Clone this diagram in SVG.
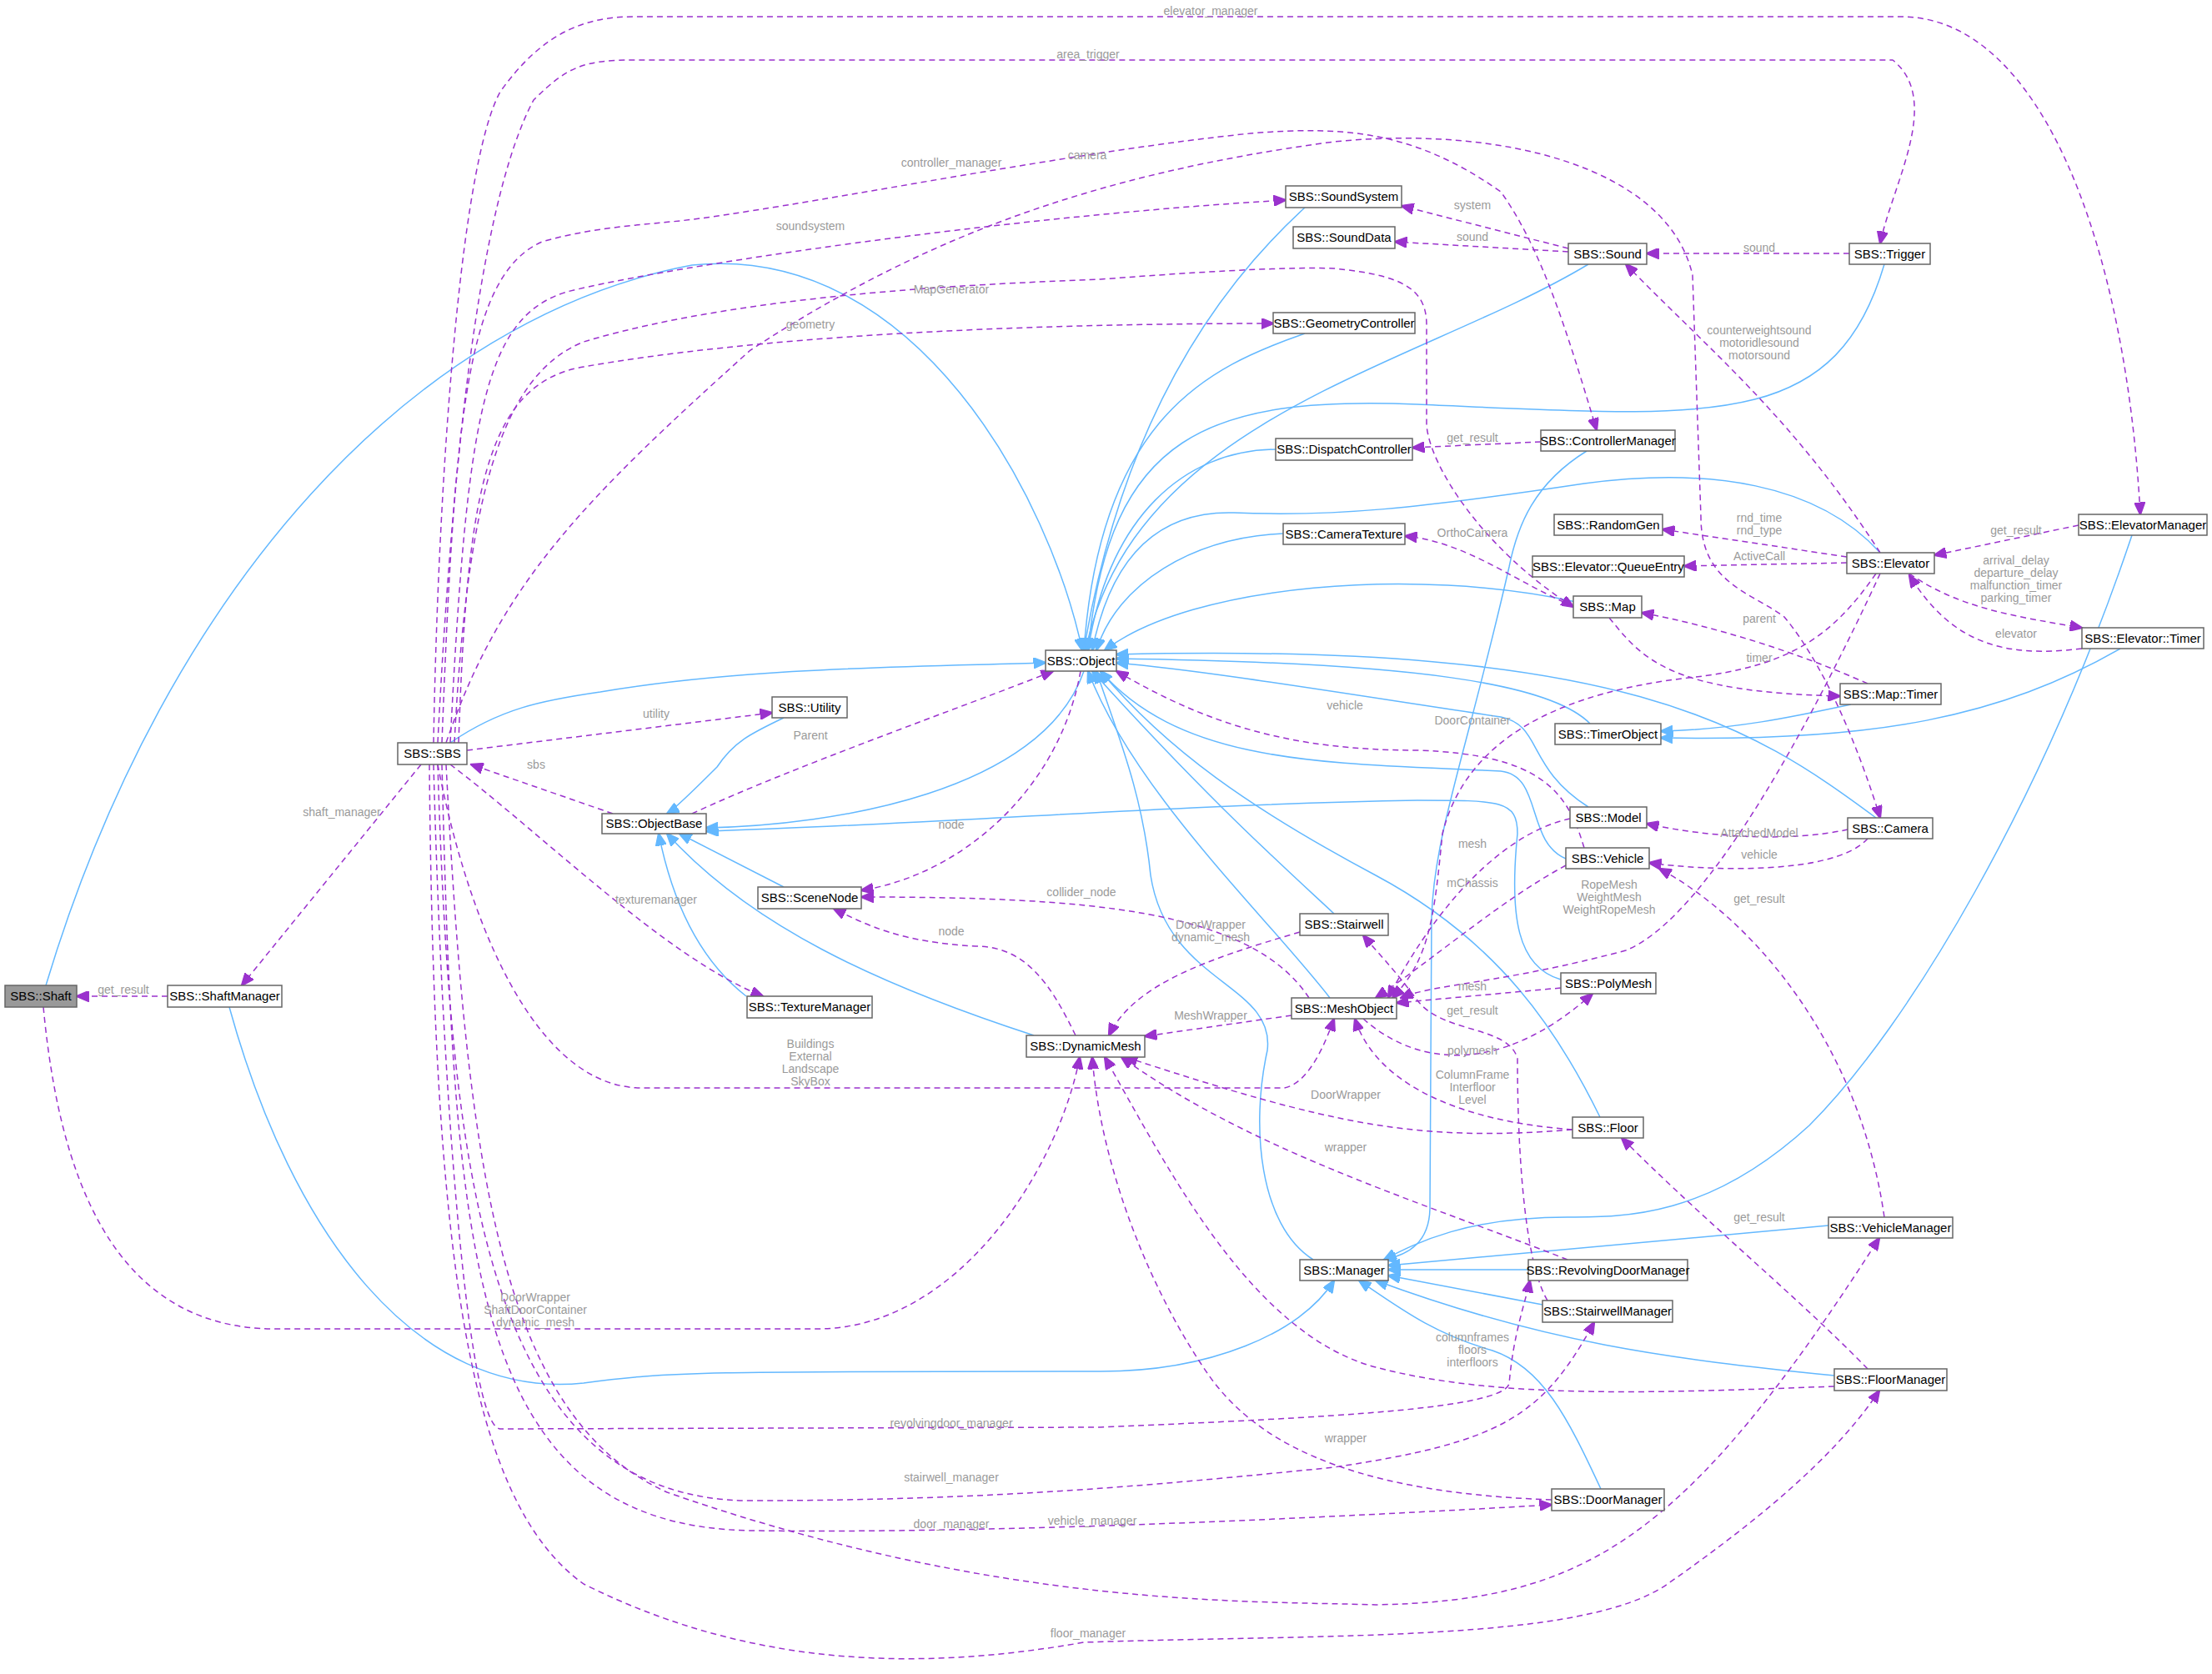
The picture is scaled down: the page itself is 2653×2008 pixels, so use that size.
<svg xmlns="http://www.w3.org/2000/svg" width="2653" height="2008" viewBox="0 0 2653 2008">
<style>
.n rect{fill:#fff;stroke:#666;stroke-width:1.5}
.n text{font-family:"Liberation Sans",Arial,sans-serif;font-size:15px;fill:#000;text-anchor:middle}
.i{fill:none;stroke:#63b8ff;stroke-width:1.5}
.u{fill:none;stroke:#9a32cd;stroke-width:1.5;stroke-dasharray:7,5}
.l{font-family:"Liberation Sans",Arial,sans-serif;font-size:14px;fill:#9a9a9a;text-anchor:middle}
</style>
<defs>
<marker id="ab" viewBox="0 0 12 10" refX="11" refY="5" markerWidth="16" markerHeight="13" markerUnits="userSpaceOnUse" orient="auto"><path d="M0,0L12,5L0,10z" fill="#63b8ff" stroke="#63b8ff"/></marker>
<marker id="ap" viewBox="0 0 12 10" refX="11" refY="5" markerWidth="16" markerHeight="13" markerUnits="userSpaceOnUse" orient="auto"><path d="M0,0L12,5L0,10z" fill="#9a32cd" stroke="#9a32cd"/></marker>
</defs>
<rect width="2653" height="2008" fill="#fff"/>
<g id="edges">
<g marker-end="url(#ab)">
<path class="i" d="M1565 249 C1400 400 1330 600 1300 780"/>
<path class="i" d="M1905 317 C1700 440 1360 500 1302 780"/>
<path class="i" d="M2260 317 C2200 520 2050 500 1700 485 C1450 475 1330 520 1305 780"/>
<path class="i" d="M1565 400 C1450 440 1320 500 1300 780"/>
<path class="i" d="M1530 539 C1420 540 1330 620 1305 780"/>
<path class="i" d="M1539 640 C1430 645 1340 700 1315 780"/>
<path class="i" d="M1890 722 C1700 680 1430 700 1325 780"/>
<path class="i" d="M2255 663 C2180 580 2050 560 1900 580 C1700 610 1600 620 1480 615 C1380 612 1330 680 1310 780"/>
<path class="i" d="M1907 868 C1860 820 1700 795 1339 790"/>
<path class="i" d="M2250 981 C2100 870 1950 770 1339 785"/>
<path class="i" d="M1905 968 C1830 920 1850 870 1800 860 C1600 830 1450 805 1339 795"/>
<path class="i" d="M1878 1030 C1830 1010 1850 930 1800 925 C1600 915 1420 920 1320 805"/>
<path class="i" d="M1600 1096 C1540 1040 1450 960 1310 805"/>
<path class="i" d="M1595 1197 C1520 1100 1360 950 1305 805"/>
<path class="i" d="M1919 1340 C1870 1240 1800 1130 1650 1050 C1500 970 1400 900 1320 805"/>
<path class="i" d="M1575 1511 C1510 1470 1500 1350 1520 1260 C1530 1180 1400 1180 1380 1050 C1370 950 1340 880 1315 805"/>
<path class="i" d="M540 891 C600 850 650 840 720 830 C900 800 1100 800 1254 795"/>
<path class="i" d="M55 1182 C200 700 500 380 830 318 C1100 290 1260 600 1298 780"/>
<path class="i" d="M940 861 C900 880 880 890 860 920 C840 940 810 970 800 976"/>
<path class="i" d="M1300 805 C1250 950 1000 990 847 993"/>
<path class="i" d="M940 1064 L815 1000"/>
<path class="i" d="M895 1195 C850 1160 810 1100 790 1000"/>
<path class="i" d="M1240 1242 C1050 1180 900 1110 800 1000"/>
<path class="i" d="M1872 1175 C1820 1160 1810 1100 1820 1000 C1820 960 1800 960 1700 960 C1400 965 1100 990 847 997"/>
<path class="i" d="M1903 541 C1840 580 1820 630 1810 680 C1760 900 1720 1000 1717 1100 L1715 1450 C1714 1490 1690 1505 1660 1511"/>
<path class="i" d="M2557 642 C2450 960 2290 1230 2170 1350 C2050 1460 1950 1460 1880 1460 C1760 1460 1700 1490 1660 1511"/>
<path class="i" d="M2193 1470 L1665 1518"/>
<path class="i" d="M1833 1523 L1665 1523"/>
<path class="i" d="M1850 1565 L1665 1530"/>
<path class="i" d="M2200 1650 C2000 1630 1850 1610 1650 1536"/>
<path class="i" d="M1920 1786 C1880 1700 1850 1640 1790 1620 C1720 1600 1680 1570 1630 1536"/>
<path class="i" d="M275 1208 C350 1480 500 1680 700 1659 C800 1645 850 1645 1320 1645 C1450 1645 1560 1600 1600 1536"/>
<path class="i" d="M2220 845 C2150 860 2080 875 1992 877"/>
<path class="i" d="M2543 778 C2400 860 2250 890 1992 885"/>
</g>
<g marker-end="url(#ap)">
<path class="u" d="M520 891 C525 600 550 200 600 110 C650 40 700 20 760 20 L2280 20 C2450 20 2550 300 2567 617"/>
<path class="u" d="M525 891 C540 600 570 250 640 120 C680 80 700 72 760 72 L2270 72 C2330 120 2270 220 2255 292"/>
<path class="u" d="M530 891 C545 500 560 330 650 290 C720 270 780 270 840 262 C1000 240 1300 180 1500 160 C1620 150 1700 160 1800 230 C1850 300 1880 400 1915 516"/>
<path class="u" d="M535 891 C600 700 700 600 900 420 C1100 290 1300 210 1600 170 C1800 150 2000 200 2030 330 L2040 620 C2040 700 2100 710 2140 740 C2190 800 2230 900 2255 981"/>
<path class="u" d="M540 891 C560 500 580 380 680 350 C800 320 1200 260 1542 240"/>
<path class="u" d="M545 891 C560 600 600 450 700 410 C900 350 1200 340 1320 335 C1450 325 1550 320 1600 322 C1680 330 1711 345 1711 390 L1711 510 C1715 560 1780 660 1887 728"/>
<path class="u" d="M550 891 C560 600 580 460 700 440 C900 405 1200 388 1527 388"/>
<path class="u" d="M560 900 L926 855"/>
<path class="u" d="M505 917 L290 1182"/>
<path class="u" d="M540 917 C650 1000 800 1150 915 1195"/>
<path class="u" d="M525 917 C560 1100 640 1305 770 1305 L1540 1305 C1570 1300 1590 1250 1600 1222"/>
<path class="u" d="M520 917 C530 1300 560 1712 600 1714 L1320 1712 C1600 1700 1800 1690 1810 1660 C1815 1600 1830 1560 1835 1536"/>
<path class="u" d="M525 917 C540 1400 580 1800 900 1800 C1200 1800 1400 1780 1600 1760 C1800 1730 1850 1700 1912 1586"/>
<path class="u" d="M530 917 C545 1500 560 1830 900 1836 C1200 1840 1600 1820 1861 1805"/>
<path class="u" d="M535 917 C560 1400 600 1700 800 1790 C1200 1930 1500 1920 1650 1925 C1900 1920 2020 1850 2254 1485"/>
<path class="u" d="M515 917 C520 1500 560 1800 700 1900 C900 2000 1100 2005 1300 1970 C1600 1960 1900 1970 2000 1900 C2100 1830 2200 1750 2254 1668"/>
<path class="u" d="M201 1195 L92 1195"/>
<path class="u" d="M52 1208 C70 1400 130 1594 330 1594 L980 1594 C1150 1594 1270 1400 1295 1268"/>
<path class="u" d="M735 976 L565 917"/>
<path class="u" d="M830 976 C950 920 1150 850 1263 805"/>
<path class="u" d="M1296 805 C1270 950 1150 1050 1033 1068"/>
<path class="u" d="M1290 1242 C1260 1180 1230 1135 1170 1135 C1080 1130 1040 1110 1000 1090"/>
<path class="u" d="M1570 1197 C1500 1090 1300 1076 1033 1076"/>
<path class="u" d="M1549 1218 L1373 1243"/>
<path class="u" d="M1559 1118 C1450 1150 1360 1180 1330 1242"/>
<path class="u" d="M1886 1355 C1700 1370 1600 1350 1350 1268"/>
<path class="u" d="M1880 1511 C1700 1440 1500 1380 1345 1268"/>
<path class="u" d="M1861 1799 C1600 1790 1500 1720 1450 1650 C1380 1550 1320 1400 1310 1268"/>
<path class="u" d="M2200 1663 C2000 1670 1800 1680 1650 1640 C1500 1600 1400 1400 1325 1268"/>
<path class="u" d="M1886 1355 C1750 1345 1650 1300 1625 1222"/>
<path class="u" d="M1635 1222 C1700 1280 1800 1290 1910 1192"/>
<path class="u" d="M1872 1185 L1675 1203"/>
<path class="u" d="M1883 982 C1800 1000 1720 1090 1665 1197"/>
<path class="u" d="M1878 1038 C1800 1080 1720 1150 1650 1197"/>
<path class="u" d="M2255 688 C2180 850 2050 1100 1950 1140 C1800 1180 1720 1180 1680 1197"/>
<path class="u" d="M2250 688 C2200 760 2150 800 2025 813 C1880 830 1760 880 1730 1000 C1720 1100 1715 1150 1670 1197"/>
<path class="u" d="M1900 1017 C1880 950 1850 905 1700 900 C1550 900 1450 870 1339 805"/>
<path class="u" d="M1881 298 L1681 247"/>
<path class="u" d="M1881 302 L1673 290"/>
<path class="u" d="M2218 304 L1975 304"/>
<path class="u" d="M2255 663 C2150 500 2050 420 1950 317"/>
<path class="u" d="M1848 530 L1694 537"/>
<path class="u" d="M2215 668 L1994 635"/>
<path class="u" d="M2215 675 L2020 679"/>
<path class="u" d="M2493 630 L2320 666"/>
<path class="u" d="M2290 688 C2350 730 2420 740 2497 753"/>
<path class="u" d="M2497 778 C2400 790 2340 770 2290 690"/>
<path class="u" d="M1887 727 C1820 700 1760 650 1685 643"/>
<path class="u" d="M2240 820 C2150 780 2050 750 1969 735"/>
<path class="u" d="M1930 741 C1970 790 2000 830 2207 835"/>
<path class="u" d="M2216 995 C2150 1010 2050 1005 1975 988"/>
<path class="u" d="M2240 1006 C2200 1050 2050 1045 1978 1035"/>
<path class="u" d="M2260 1460 C2230 1250 2100 1100 1990 1042"/>
<path class="u" d="M2240 1642 C2150 1550 2050 1470 1945 1365"/>
<path class="u" d="M1856 1560 C1820 1500 1820 1300 1820 1270 C1810 1230 1730 1240 1700 1200 C1670 1160 1650 1140 1635 1122"/>
</g>
<g class="lbls">
<text class="l" x="1452" y="18">elevator_manager</text>
<text class="l" x="1305" y="70">area_trigger</text>
<text class="l" x="1141" y="200">controller_manager</text>
<text class="l" x="1304" y="191">camera</text>
<text class="l" x="972" y="276">soundsystem</text>
<text class="l" x="1141" y="352">MapGenerator</text>
<text class="l" x="972" y="394">geometry</text>
<text class="l" x="787" y="861">utility</text>
<text class="l" x="972" y="887">Parent</text>
<text class="l" x="643" y="922">sbs</text>
<text class="l" x="410" y="979">shaft_manager</text>
<text class="l" x="1141" y="994">node</text>
<text class="l" x="787" y="1084">texturemanager</text>
<text class="l" x="1141" y="1122">node</text>
<text class="l" x="1297" y="1075">collider_node</text>
<text class="l" x="148" y="1192">get_result</text>
<text class="l" x="972" y="1257">Buildings</text>
<text class="l" x="972" y="1272">External</text>
<text class="l" x="972" y="1287">Landscape</text>
<text class="l" x="972" y="1302">SkyBox</text>
<text class="l" x="642" y="1561">DoorWrapper</text>
<text class="l" x="642" y="1576">ShaftDoorContainer</text>
<text class="l" x="642" y="1591">dynamic_mesh</text>
<text class="l" x="1141" y="1712">revolvingdoor_manager</text>
<text class="l" x="1141" y="1777">stairwell_manager</text>
<text class="l" x="1141" y="1833">door_manager</text>
<text class="l" x="1310" y="1829">vehicle_manager</text>
<text class="l" x="1305" y="1964">floor_manager</text>
<text class="l" x="1766" y="251">system</text>
<text class="l" x="1766" y="289">sound</text>
<text class="l" x="2110" y="302">sound</text>
<text class="l" x="2110" y="401">counterweightsound</text>
<text class="l" x="2110" y="416">motoridlesound</text>
<text class="l" x="2110" y="431">motorsound</text>
<text class="l" x="1766" y="530">get_result</text>
<text class="l" x="2110" y="626">rnd_time</text>
<text class="l" x="2110" y="641">rnd_type</text>
<text class="l" x="2110" y="672">ActiveCall</text>
<text class="l" x="2418" y="641">get_result</text>
<text class="l" x="2418" y="677">arrival_delay</text>
<text class="l" x="2418" y="692">departure_delay</text>
<text class="l" x="2418" y="707">malfunction_timer</text>
<text class="l" x="2418" y="722">parking_timer</text>
<text class="l" x="2418" y="765">elevator</text>
<text class="l" x="1766" y="644">OrthoCamera</text>
<text class="l" x="2110" y="747">parent</text>
<text class="l" x="2110" y="794">timer</text>
<text class="l" x="1613" y="851">vehicle</text>
<text class="l" x="1766" y="869">DoorContainer</text>
<text class="l" x="2110" y="1004">AttachedModel</text>
<text class="l" x="2110" y="1030">vehicle</text>
<text class="l" x="1766" y="1017">mesh</text>
<text class="l" x="1766" y="1064">mChassis</text>
<text class="l" x="1930" y="1066">RopeMesh</text>
<text class="l" x="1930" y="1081">WeightMesh</text>
<text class="l" x="1930" y="1096">WeightRopeMesh</text>
<text class="l" x="2110" y="1083">get_result</text>
<text class="l" x="1452" y="1114">DoorWrapper</text>
<text class="l" x="1452" y="1129">dynamic_mesh</text>
<text class="l" x="1766" y="1188">mesh</text>
<text class="l" x="1766" y="1217">get_result</text>
<text class="l" x="1452" y="1223">MeshWrapper</text>
<text class="l" x="1766" y="1265">polymesh</text>
<text class="l" x="1766" y="1294">ColumnFrame</text>
<text class="l" x="1766" y="1309">Interfloor</text>
<text class="l" x="1766" y="1324">Level</text>
<text class="l" x="1614" y="1318">DoorWrapper</text>
<text class="l" x="1614" y="1381">wrapper</text>
<text class="l" x="2110" y="1465">get_result</text>
<text class="l" x="1766" y="1609">columnframes</text>
<text class="l" x="1766" y="1624">floors</text>
<text class="l" x="1766" y="1639">interfloors</text>
<text class="l" x="1614" y="1730">wrapper</text>
</g>
</g>
<g id="Shaft" class="n"><rect x="6" y="1182" width="86" height="26" style="fill:#999"/><text x="49" y="1200">SBS::Shaft</text></g>
<g id="ShaftManager" class="n"><rect x="201" y="1182" width="137" height="26"/><text x="269.5" y="1200">SBS::ShaftManager</text></g>
<g id="SBS" class="n"><rect x="477" y="891" width="83" height="26"/><text x="518.5" y="909">SBS::SBS</text></g>
<g id="Utility" class="n"><rect x="926" y="836" width="90" height="25"/><text x="971" y="854">SBS::Utility</text></g>
<g id="ObjectBase" class="n"><rect x="722" y="976" width="125" height="24"/><text x="784.5" y="993">SBS::ObjectBase</text></g>
<g id="Object" class="n"><rect x="1254" y="780" width="85" height="25"/><text x="1296.5" y="798">SBS::Object</text></g>
<g id="SceneNode" class="n"><rect x="909" y="1064" width="124" height="26"/><text x="971" y="1082">SBS::SceneNode</text></g>
<g id="TextureManager" class="n"><rect x="896" y="1195" width="150" height="26"/><text x="971" y="1213">SBS::TextureManager</text></g>
<g id="DynamicMesh" class="n"><rect x="1231" y="1242" width="142" height="26"/><text x="1302" y="1260">SBS::DynamicMesh</text></g>
<g id="SoundSystem" class="n"><rect x="1542" y="223" width="139" height="26"/><text x="1611.5" y="241">SBS::SoundSystem</text></g>
<g id="SoundData" class="n"><rect x="1551" y="272" width="122" height="26"/><text x="1612" y="290">SBS::SoundData</text></g>
<g id="Sound" class="n"><rect x="1881" y="292" width="94" height="25"/><text x="1928" y="310">SBS::Sound</text></g>
<g id="Trigger" class="n"><rect x="2218" y="292" width="97" height="25"/><text x="2266.5" y="310">SBS::Trigger</text></g>
<g id="GeometryController" class="n"><rect x="1527" y="375" width="170" height="25"/><text x="1612" y="393">SBS::GeometryController</text></g>
<g id="DispatchController" class="n"><rect x="1530" y="526" width="164" height="26"/><text x="1612" y="544">SBS::DispatchController</text></g>
<g id="ControllerManager" class="n"><rect x="1848" y="516" width="161" height="25"/><text x="1928.5" y="534">SBS::ControllerManager</text></g>
<g id="RandomGen" class="n"><rect x="1864" y="617" width="130" height="25"/><text x="1929" y="635">SBS::RandomGen</text></g>
<g id="QueueEntry" class="n"><rect x="1838" y="667" width="182" height="25"/><text x="1929" y="685">SBS::Elevator::QueueEntry</text></g>
<g id="Elevator" class="n"><rect x="2215" y="663" width="105" height="25"/><text x="2267.5" y="681">SBS::Elevator</text></g>
<g id="ElevatorManager" class="n"><rect x="2493" y="617" width="154" height="25"/><text x="2570" y="635">SBS::ElevatorManager</text></g>
<g id="CameraTexture" class="n"><rect x="1539" y="628" width="146" height="25"/><text x="1612" y="646">SBS::CameraTexture</text></g>
<g id="Map" class="n"><rect x="1887" y="715" width="82" height="26"/><text x="1928" y="733">SBS::Map</text></g>
<g id="ElevatorTimer" class="n"><rect x="2497" y="753" width="146" height="25"/><text x="2570" y="771">SBS::Elevator::Timer</text></g>
<g id="MapTimer" class="n"><rect x="2207" y="820" width="121" height="25"/><text x="2267.5" y="838">SBS::Map::Timer</text></g>
<g id="TimerObject" class="n"><rect x="1865" y="868" width="127" height="25"/><text x="1928.5" y="886">SBS::TimerObject</text></g>
<g id="Model" class="n"><rect x="1883" y="968" width="92" height="25"/><text x="1929" y="986">SBS::Model</text></g>
<g id="Camera" class="n"><rect x="2216" y="981" width="102" height="25"/><text x="2267" y="999">SBS::Camera</text></g>
<g id="Vehicle" class="n"><rect x="1878" y="1017" width="100" height="25"/><text x="1928" y="1035">SBS::Vehicle</text></g>
<g id="Stairwell" class="n"><rect x="1559" y="1096" width="106" height="26"/><text x="1612" y="1114">SBS::Stairwell</text></g>
<g id="PolyMesh" class="n"><rect x="1872" y="1167" width="114" height="25"/><text x="1929" y="1185">SBS::PolyMesh</text></g>
<g id="MeshObject" class="n"><rect x="1549" y="1197" width="126" height="25"/><text x="1612" y="1215">SBS::MeshObject</text></g>
<g id="Floor" class="n"><rect x="1886" y="1340" width="85" height="25"/><text x="1928.5" y="1358">SBS::Floor</text></g>
<g id="VehicleManager" class="n"><rect x="2193" y="1460" width="149" height="25"/><text x="2267.5" y="1478">SBS::VehicleManager</text></g>
<g id="Manager" class="n"><rect x="1559" y="1511" width="106" height="25"/><text x="1612" y="1529">SBS::Manager</text></g>
<g id="RevolvingDoorManager" class="n"><rect x="1833" y="1511" width="191" height="25"/><text x="1928.5" y="1529">SBS::RevolvingDoorManager</text></g>
<g id="StairwellManager" class="n"><rect x="1850" y="1560" width="156" height="26"/><text x="1928" y="1578">SBS::StairwellManager</text></g>
<g id="FloorManager" class="n"><rect x="2200" y="1642" width="135" height="26"/><text x="2267.5" y="1660">SBS::FloorManager</text></g>
<g id="DoorManager" class="n"><rect x="1861" y="1786" width="135" height="26"/><text x="1928.5" y="1804">SBS::DoorManager</text></g>
</svg>
